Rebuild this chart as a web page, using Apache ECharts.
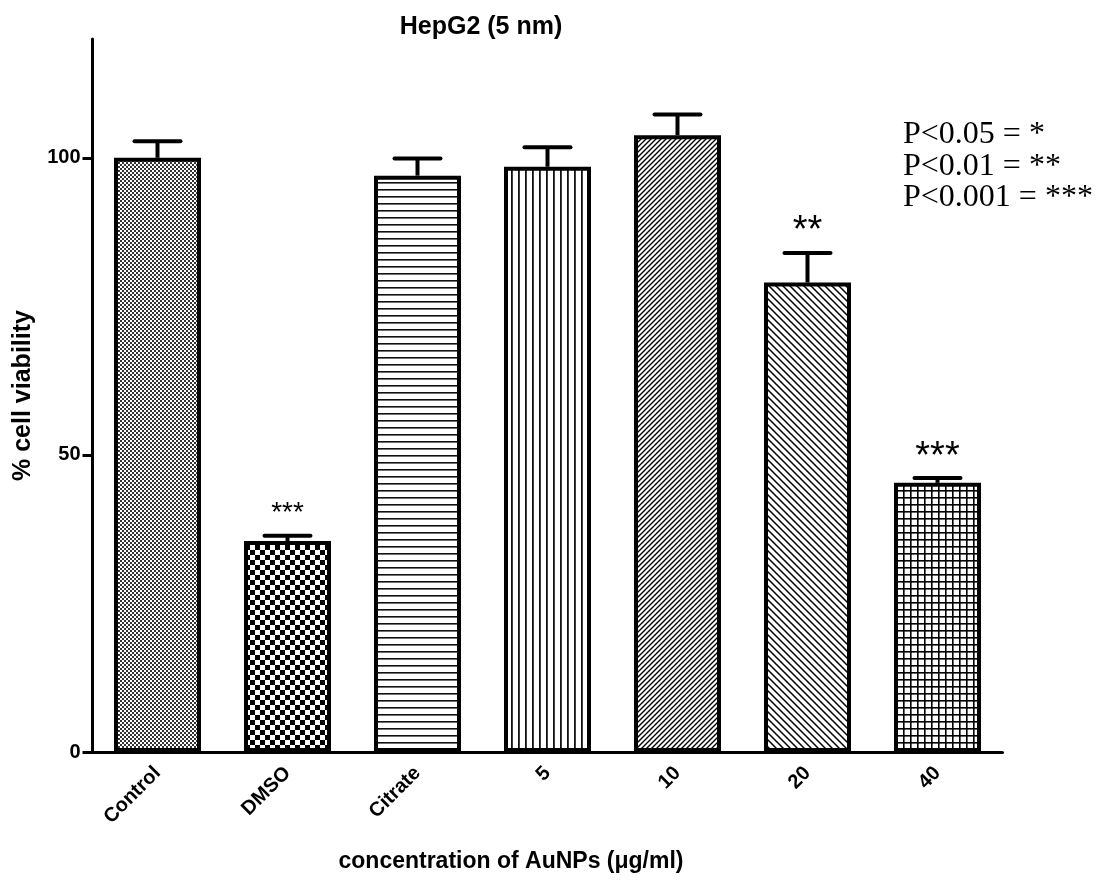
<!DOCTYPE html>
<html>
<head>
<meta charset="utf-8">
<script src="https://cdn.jsdelivr.net/npm/echarts@6/dist/echarts.min.js"></script>
<style>html,body{margin:0;padding:0;background:#fff}#c{width:1098px;height:892px}</style>
</head>
<body>
<div id="c"></div>
<script>
// ---- data ----
const categories = ['Control', 'DMSO', 'Citrate', '5', '10', '20', '40'];
const viability = [100, 35.5, 97.0, 98.5, 103.8, 79.0, 45.3];
const sem = [2.8, 0.9, 2.9, 3.3, 3.5, 5.0, 0.8];
const significance = ['', '***', '', '', '', '**', '***'];
const yTicks = [0, 50, 100];
const legendLines = ['P<0.05 = *', 'P<0.01 = **', 'P<0.001 = ***'];

// ---- patterns ----
function pat(w, h, draw) {
  const c = document.createElement('canvas');
  c.width = w; c.height = h;
  const g = c.getContext('2d');
  g.fillStyle = '#fff'; g.fillRect(0, 0, w, h);
  g.fillStyle = '#000'; g.strokeStyle = '#000';
  draw(g, w, h);
  return { image: c, repeat: 'repeat' };
}
const patterns = [
  pat(4, 4, g => { g.fillStyle = '#333'; g.fillRect(0, 0, 2, 2); g.fillRect(2, 2, 2, 2); }),
  pat(10, 10, g => { g.fillRect(0, 0, 5, 5); g.fillRect(5, 5, 5, 5); }),
  pat(8, 7, g => { g.fillStyle = '#111'; g.fillRect(0, 0, 8, 1.6); }),
  pat(7.5, 8, g => { g.fillStyle = '#111'; g.fillRect(0, 0, 1.8, 8); }),
  pat(5, 5, (g, w, h) => { g.lineWidth = 1.4; g.beginPath(); g.moveTo(-1, h + 1); g.lineTo(w + 1, -1); g.moveTo(-1, 1); g.lineTo(1, -1); g.moveTo(w - 1, h + 1); g.lineTo(w + 1, h - 1); g.stroke(); }),
  pat(7, 7, (g, w, h) => { g.lineWidth = 1.5; g.beginPath(); g.moveTo(-1, -1); g.lineTo(w + 1, h + 1); g.moveTo(w - 1, -1); g.lineTo(w + 1, 1); g.moveTo(-1, h - 1); g.lineTo(1, h + 1); g.stroke(); }),
  pat(7, 7, g => { g.fillRect(0, 0, 7, 1.6); g.fillRect(0, 0, 1.6, 7); })
];

const chart = echarts.init(document.getElementById('c'), null, { renderer: 'canvas' });
const axisFont = 'Liberation Sans, Arial, sans-serif';

chart.setOption({
  animation: false,
  backgroundColor: '#fff',
  title: {
    text: 'HepG2 (5 nm)', left: 476, top: 10, textAlign: 'center',
    textStyle: { fontFamily: axisFont, fontWeight: 'bold', fontSize: 25, color: '#000' }
  },
  grid: { left: 92.5, right: 95.5, top: 39, bottom: 140, containLabel: false, outerBoundsMode: 'none' },
  xAxis: {
    type: 'category', data: categories,
    axisLine: { lineStyle: { color: '#000', width: 3 } },
    axisTick: { alignWithLabel: true, length: 8, lineStyle: { color: '#000', width: 3 } },
    axisLabel: { rotate: 45, margin: 18, color: '#000', fontFamily: axisFont, fontWeight: 'bold', fontSize: 20 }
  },
  yAxis: {
    type: 'value', min: 0, max: 120, interval: 50,
    name: '% cell viability', nameLocation: 'middle', nameGap: 57,
    nameTextStyle: { color: '#000', fontFamily: axisFont, fontWeight: 'bold', fontSize: 25 },
    axisLine: { show: true, lineStyle: { color: '#000', width: 3 } },
    axisTick: { show: true, length: 10, customValues: yTicks, lineStyle: { color: '#000', width: 3 } },
    axisLabel: { customValues: yTicks, margin: 12, color: '#000', fontFamily: axisFont, fontWeight: 'bold', fontSize: 20 },
    splitLine: { show: false }
  },
  series: [
    {
      type: 'bar', barWidth: 87,
      data: viability.map((v, i) => ({
        value: v,
        itemStyle: { color: patterns[i], borderColor: '#000', borderWidth: 4 }
      })),
      z: 2
    },
    {
      type: 'custom', z: 3,
      data: viability.map((v, i) => [i, v, sem[i]]),
      renderItem: function (params, api) {
        const i = api.value(0);
        const base = api.coord([i, api.value(1)]);
        const top = api.coord([i, api.value(1) + api.value(2)]);
        const half = 23;
        const star = significance[i];
        const children = [
          { type: 'line', shape: { x1: base[0], y1: base[1], x2: top[0], y2: top[1] }, style: { stroke: '#000', lineWidth: 4 } },
          { type: 'line', shape: { x1: top[0] - half, y1: top[1], x2: top[0] + half, y2: top[1] }, style: { stroke: '#000', lineWidth: 4, lineCap: 'round' } }
        ];
        if (star) {
          const small = i === 1;
          children.push({
            type: 'text',
            style: {
              x: top[0], y: top[1] - (small ? 8 : 2),
              text: star, align: 'center', verticalAlign: 'bottom',
              fill: '#000', fontFamily: axisFont, fontSize: small ? 28 : 38
            }
          });
        }
        return { type: 'group', children: children };
      }
    }
  ],
  graphic: [
    {
      type: 'text', x: 511, y: 862,
      style: { text: 'concentration of AuNPs (\u03bcg/ml)', fill: '#000', fontFamily: axisFont, fontWeight: 'bold', fontSize: 23, align: 'center', verticalAlign: 'middle' }
    },
    ...legendLines.map((t, k) => ({
      type: 'text', x: 903, y: 135 + k * 31.5,
      style: { text: t, fill: '#000', fontFamily: 'Liberation Serif, Times New Roman, serif', fontSize: 32, verticalAlign: 'middle' }
    }))
  ]
});
</script>
</body>
</html>
